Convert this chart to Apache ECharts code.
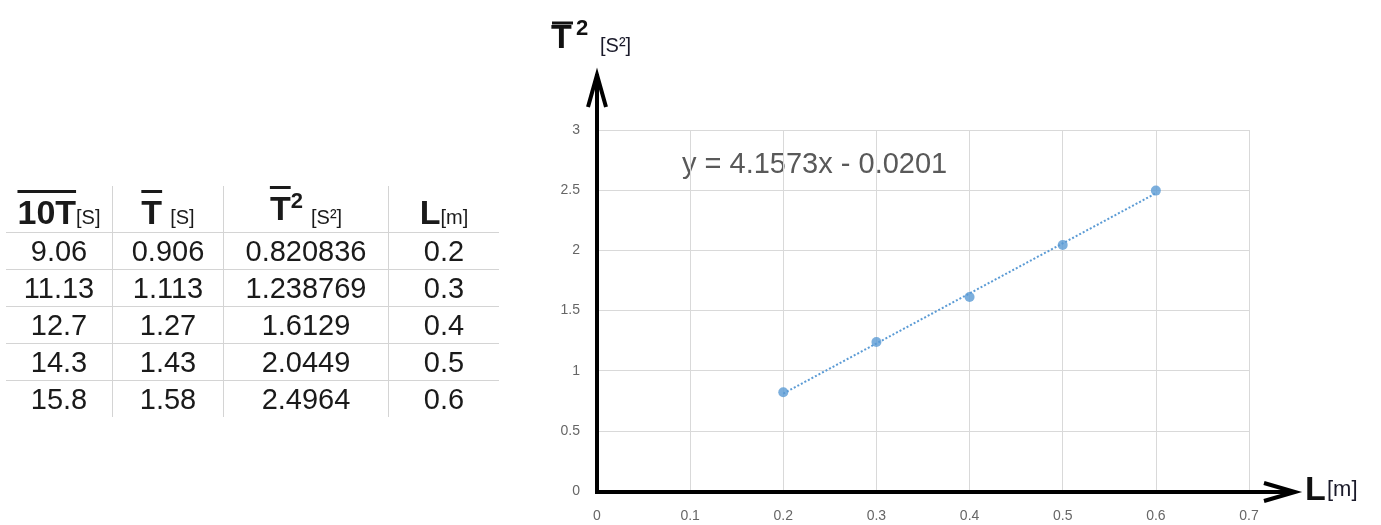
<!DOCTYPE html>
<html>
<head>
<meta charset="utf-8">
<title>T2 vs L</title>
<script src="https://cdn.jsdelivr.net/npm/echarts@6/dist/echarts.min.js"></script>
<style>
html,body{margin:0;padding:0;background:#fff;}
#chart{position:absolute;left:0;top:0;width:1381px;height:525px;}
#tbl{position:absolute;left:6px;top:186px;border-collapse:collapse;font-family:"Liberation Sans",Arial,sans-serif;color:#1a1a1a;pointer-events:none;}
#tbl td,#tbl th{padding:0;text-align:center;height:36px;border-left:1px solid #d4d4d4;border-bottom:1px solid #d4d4d4;font-size:29px;font-weight:normal;line-height:36px;}
#tbl tr td:first-child,#tbl tr th:first-child{border-left:none;}
#tbl tr:last-child td{border-bottom:none;}
#tbl th{vertical-align:bottom;line-height:30px;}
#tbl .big{font-size:34px;font-weight:bold;}
#tbl .ov{text-decoration:overline;text-decoration-thickness:3px;}
#tbl .un{font-size:20px;}
#tbl sup{font-size:22px;font-weight:bold;vertical-align:12px;}
</style>
</head>
<body>
<div id="chart"></div>
<table id="tbl">
  <thead>
    <tr>
      <th style="width:106px"><span class="big ov">10T</span><span class="un">[S]</span></th>
      <th style="width:110px"><span class="big ov">T</span> <span class="un">[S]</span></th>
      <th style="width:164px"><span class="big ov">T</span><sup>2</sup> <span class="un" style="vertical-align:-4px">[S²]</span></th>
      <th style="width:110px"><span class="big">L</span><span class="un">[m]</span></th>
    </tr>
  </thead>
  <tbody id="tbody"></tbody>
</table>
<script>
// 表格数据
var tenT = ["9.06", "11.13", "12.7", "14.3", "15.8"];
var tMean = ["0.906", "1.113", "1.27", "1.43", "1.58"];
var tSquare = ["0.820836", "1.238769", "1.6129", "2.0449", "2.4964"];
var lengths = ["0.2", "0.3", "0.4", "0.5", "0.6"];

// 图表数据
var xL = [0.2, 0.3, 0.4, 0.5, 0.6];
var yT2 = [0.820836, 1.238769, 1.6129, 2.0449, 2.4964];
var trendX = [0.2, 0.6];
var trendY = [0.81, 2.474];
var trendText = "y = 4.1573x - 0.0201";

function buildTable(){
	var tbody = "";
	for(var i=0;i<tenT.length;i++){
		tbody += "<tr><td>" + tenT[i] + "</td>" +
			"<td>" + tMean[i] + "</td>" +
			"<td>" + tSquare[i] + "</td>" +
			"<td>" + lengths[i] + "</td></tr>";
	}
	document.getElementById("tbody").innerHTML = tbody;
}

function loadChart(){
	var myChart = echarts.init(document.getElementById('chart'));
	var points = [], trend = [];
	for(var i=0;i<xL.length;i++){
		points.push([xL[i], yT2[i]]);
	}
	for(var j=0;j<trendX.length;j++){
		trend.push([trendX[j], trendY[j]]);
	}
	var blk = '#000';
	var option = {
		animation: false,
		grid: {left: 597, right: 132, top: 130, bottom: 34},
		xAxis: {
			type: 'value', min: 0, max: 0.7, interval: 0.1,
			axisLine: {show: false},
			axisTick: {show: false},
			axisLabel: {color: '#666', fontSize: 14, margin: 18, fontFamily: 'Liberation Sans'},
			splitLine: {lineStyle: {color: '#d9d9d9', width: 1}}
		},
		yAxis: {
			type: 'value', min: 0, max: 3, interval: 0.5,
			axisLine: {show: false},
			axisTick: {show: false},
			axisLabel: {color: '#666', fontSize: 14, margin: 17, fontFamily: 'Liberation Sans'},
			splitLine: {lineStyle: {color: '#d9d9d9', width: 1}}
		},
		graphic: [
			{type: 'text', left: 682, top: 150, style: {text: trendText, fill: '#595959', font: '29px "Liberation Sans", Arial'}},
			// 坐标轴箭头
			{type: 'line', shape: {x1: 597, y1: 494, x2: 597, y2: 74}, style: {stroke: blk, lineWidth: 4}, z: 10},
			{type: 'polyline', shape: {points: [[588, 107], [597, 75], [606, 107]]}, style: {stroke: blk, lineWidth: 4, fill: null}, z: 10},
			{type: 'line', shape: {x1: 595, y1: 492, x2: 1294, y2: 492}, style: {stroke: blk, lineWidth: 4}, z: 10},
			{type: 'polyline', shape: {points: [[1264, 483], [1295, 492], [1264, 501]]}, style: {stroke: blk, lineWidth: 4, fill: null}, z: 10},
			// 纵轴标题
			{type: 'text', left: 551, top: 22, style: {text: 'T', fill: '#111', font: 'bold 34px "Liberation Sans", Arial'}},
			{type: 'line', shape: {x1: 552, y1: 23, x2: 573, y2: 23}, style: {stroke: '#111', lineWidth: 3}},
			{type: 'text', left: 576, top: 18, style: {text: '2', fill: '#111', font: 'bold 22px "Liberation Sans", Arial'}},
			{type: 'text', left: 600, top: 36, style: {text: '[S²]', fill: '#1a1a2a', font: '20px "Liberation Sans", Arial'}},
			// 横轴标题
			{type: 'text', left: 1305, top: 474, style: {text: 'L', fill: '#111', font: 'bold 34px "Liberation Sans", Arial'}},
			{type: 'text', left: 1327, top: 479, style: {text: '[m]', fill: '#1a1a2a', font: '22px "Liberation Sans", Arial'}}
		],
		series: [
			{
				type: 'line',
				data: trend,
				symbol: 'none',
				lineStyle: {color: '#5b9bd5', width: 2, type: 'dotted'},
				z: 2
			},
			{
				type: 'scatter',
				data: points,
				symbolSize: 10,
				itemStyle: {color: '#5b9bd5'},
				z: 3
			}
		]
	};
	myChart.setOption(option);
}

buildTable();
loadChart();
</script>
</body>
</html>
